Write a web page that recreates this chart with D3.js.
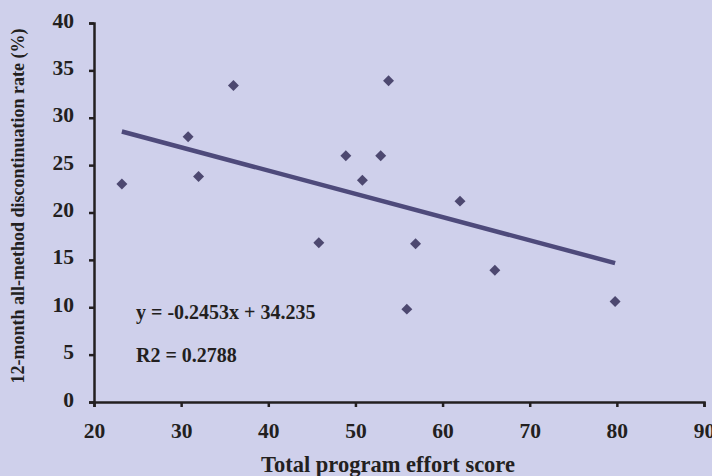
<!DOCTYPE html>
<html><head><meta charset="utf-8">
<script src="https://cdn.jsdelivr.net/npm/d3@7"></script>
<style>body{margin:0;background:#cfd0eb;}svg{display:block;}</style>
</head><body>
<script>
const effortScore = [23.2, 30.8, 32.0, 36.0, 45.8, 48.9, 50.8, 52.9, 53.8, 55.9, 56.9, 62.0, 66.0, 79.8];
const discontinuationRate = [23.0, 28.0, 23.8, 33.4, 16.8, 26.0, 23.4, 26.0, 33.9, 9.8, 16.7, 21.2, 13.9, 10.6];
const xTicks = [20, 30, 40, 50, 60, 70, 80, 90];
const yTicks = [0, 5, 10, 15, 20, 25, 30, 35, 40];
const trendSlope = -0.2453, trendIntercept = 34.235;
const equationLabel = "y = -0.2453x + 34.235";
const r2Label = "R2 = 0.2788";
const xTitle = "Total program effort score";
const yTitle = "12-month all-method discontinuation rate (%)";

const W = 712, H = 476;
const svg = d3.select("body").append("svg").attr("width", W).attr("height", H);
svg.append("rect").attr("width", W).attr("height", H).attr("fill", "#cfd0eb");
const font = "'Liberation Serif','Times New Roman',serif";
const x = d3.scaleLinear().domain([20, 90]).range([94, 704]);
const y = d3.scaleLinear().domain([0, 40]).range([402, 23]);
const ink = "#231f20";

const xa = svg.append("g").attr("transform", `translate(0,${y(0)})`)
  .call(d3.axisBottom(x).tickValues(xTicks).tickSize(5).tickPadding(16));
const ya = svg.append("g").attr("transform", `translate(${x(20)},0)`)
  .call(d3.axisLeft(y).tickValues(yTicks).tickSize(5).tickPadding(15));
[xa, ya].forEach(g => {
  g.select(".domain").attr("stroke", ink).attr("stroke-width", 2.5);
  g.selectAll(".tick line").attr("stroke", ink).attr("stroke-width", 2.5);
  g.selectAll(".tick text").attr("fill", ink).attr("font-family", font)
    .attr("font-weight", "bold").attr("font-size", 21.5);
});
ya.selectAll(".tick text").attr("dy", "0.19em");

const x0 = d3.min(effortScore), x1 = d3.max(effortScore);
svg.append("line")
  .attr("x1", x(x0)).attr("y1", y(trendSlope * x0 + trendIntercept))
  .attr("x2", x(x1)).attr("y2", y(trendSlope * x1 + trendIntercept))
  .attr("stroke", "#4e4a7b").attr("stroke-width", 4.5);

const diamond = d3.symbol().type(d3.symbolSquare).size(60);
svg.append("g").selectAll("path").data(effortScore).join("path")
  .attr("d", diamond)
  .attr("transform", (d, i) => `translate(${x(d)},${y(discontinuationRate[i])}) rotate(45)`)
  .attr("fill", "#4d4870");

svg.append("text").attr("x", 136).attr("y", 319).text(equationLabel)
  .attr("font-family", font).attr("font-weight", "bold").attr("font-size", 20).attr("fill", ink);
svg.append("text").attr("x", 136).attr("y", 362).text(r2Label)
  .attr("font-family", font).attr("font-weight", "bold").attr("font-size", 20).attr("fill", ink);

svg.append("text").attr("x", 388).attr("y", 472).attr("text-anchor", "middle").text(xTitle)
  .attr("font-family", font).attr("font-weight", "bold").attr("font-size", 22.5).attr("fill", ink);
svg.append("text").attr("transform", "translate(24,206) rotate(-90)").attr("text-anchor", "middle").text(yTitle)
  .attr("font-family", font).attr("font-weight", "bold").attr("font-size", 18).attr("fill", ink);
</script>
</body></html>
